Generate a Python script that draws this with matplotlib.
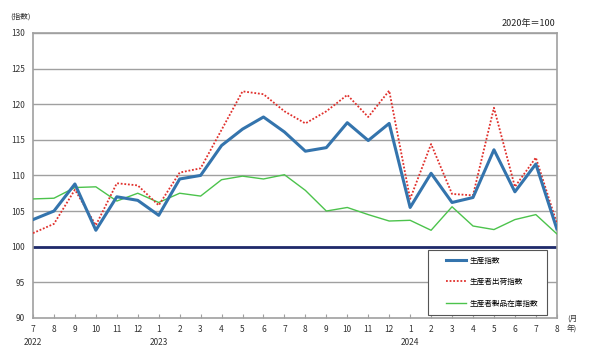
import matplotlib
matplotlib.use("Agg")
import matplotlib.pyplot as plt
from matplotlib.patches import Rectangle

plt.rcParams["font.family"] = ["Noto Sans CJK JP", "DejaVu Sans"]

MONTHS = [7, 8, 9, 10, 11, 12, 1, 2, 3, 4, 5, 6, 7, 8, 9, 10, 11, 12,
          1, 2, 3, 4, 5, 6, 7, 8]
YEARS = {0: "2022", 6: "2023", 18: "2024"}

production = [103.8, 105.0, 108.8, 102.3, 107.0, 106.5, 104.4, 109.5, 110.0,
              114.2, 116.5, 118.2, 116.1, 113.4, 113.9, 117.4, 114.9, 117.3,
              105.5, 110.3, 106.2, 106.9, 113.6, 107.7, 111.6, 102.5]
shipments = [101.9, 103.2, 108.0, 103.0, 108.9, 108.6, 105.8, 110.4, 111.0,
             116.4, 121.8, 121.4, 119.0, 117.3, 119.0, 121.3, 118.2, 121.9,
             106.7, 114.4, 107.4, 107.2, 119.5, 108.4, 112.5, 103.3]
inventory = [106.7, 106.8, 108.3, 108.4, 106.4, 107.5, 106.2, 107.5, 107.1,
             109.4, 109.9, 109.5, 110.1, 107.9, 105.0, 105.5, 104.5, 103.6,
             103.7, 102.3, 105.6, 102.9, 102.4, 103.8, 104.5, 101.8]

x = list(range(len(MONTHS)))

fig = plt.figure(figsize=(6.0, 3.58), dpi=100)
ax = fig.add_axes([0.055, 0.112, 0.873, 0.796])

for v in range(95, 131, 5):
    ax.axhline(v, color="#a0a0a0", lw=1.0, zorder=1)
ax.axhline(100, color="#1f2a6b", lw=2.0, zorder=2)

ax.plot(x, inventory, color="#4cc34c", lw=1.0, zorder=3, label="生産者製品在庫指数")
ax.plot(x, shipments, color="#e0302c", lw=1.3, ls=(0, (1, 1)), zorder=4, label="生産者出荷指数")
ax.plot(x, production, color="#3474ad", lw=2.2, zorder=5, label="生産指数")

ax.set_xlim(0, len(MONTHS) - 1)
ax.set_ylim(90, 130)
ax.set_yticks(range(90, 131, 5))
ax.set_xticks(x)
ax.set_xticklabels([str(m) for m in MONTHS])
ax.tick_params(axis="both", labelsize=6, colors="#333333", length=3, color="#a0a0a0")
ax.tick_params(axis="x", direction="in", pad=5)
ax.tick_params(axis="y", length=0, pad=6)
for s in ax.spines.values():
    s.set_color("#a0a0a0")
    s.set_linewidth(1.2)

for i, yr in YEARS.items():
    ax.text(i, -0.07, yr, transform=ax.get_xaxis_transform(), ha="center",
            va="top", fontsize=6, color="#333333")

fig.text(0.017, 0.955, "(指数)", fontsize=5.5, color="#333333", va="center")
fig.text(0.925, 0.933, "2020年＝100", fontsize=6.5, color="#222222", ha="right", va="center")
fig.text(0.945, 0.095, "(月\n年)", fontsize=5.5, color="#333333", va="center", linespacing=1.4)

# legend box drawn separately so the entries can sit indented inside it
ax.add_patch(Rectangle((0.754, 0.0105), 0.227, 0.228, transform=ax.transAxes,
                       facecolor="white", edgecolor="#555555", lw=0.8, zorder=6))
handles, labels = ax.get_legend_handles_labels()
leg = ax.legend(handles[::-1], labels[::-1], loc="upper left",
                bbox_to_anchor=(0.776, 0.2386), frameon=False,
                fontsize=5.5, handlelength=2.6, labelspacing=1.75,
                borderpad=0.9, handletextpad=0.4, borderaxespad=0)
leg.set_zorder(7)

fig.savefig("out.png", dpi=100)
